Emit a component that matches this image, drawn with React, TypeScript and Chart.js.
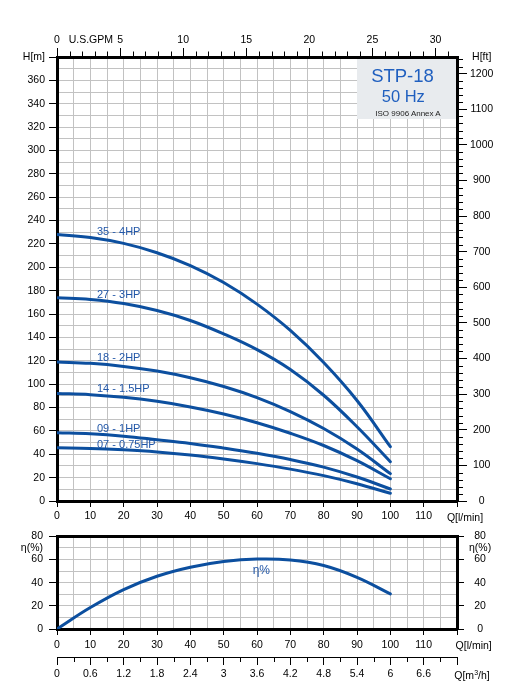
import React, { useEffect, useRef } from 'react';
import { Chart, registerables } from 'chart.js';

Chart.register(...registerables);

const FONT = "'Liberation Sans', Arial, Helvetica, sans-serif";
Chart.defaults.font.family = FONT;
Chart.defaults.font.size = 10.5;
Chart.defaults.color = '#000';

// ---------------- data ----------------
const flowLpm = [0, 10, 20, 30, 40, 50, 60, 70, 80, 90, 100];
const head35 = [228, 225.5, 220.5, 212.5, 201.5, 187, 168.5, 146, 118.5, 86, 46.5];
const head27 = [174, 172.5, 169, 163, 154.5, 143, 129.5, 112.5, 90.5, 63.5, 33.6];
const head18 = [119, 117.8, 115.2, 111.2, 105.5, 98, 88.5, 76.5, 62, 44.5, 23.4];
const head14 = [92, 91, 88.8, 85.3, 80.5, 74.5, 67, 58, 47.5, 34.5, 19];
const head09 = [58.5, 57.5, 55.5, 52.5, 49.3, 45.3, 40.8, 35.5, 29, 20.5, 10.3];
const head07 = [45.5, 45, 43.8, 42, 39.4, 36, 32, 27.3, 21.7, 14.8, 6.6];
const efficiency = [0, 18.5, 34, 45.5, 53.3, 58.2, 60.4, 59.6, 54.8, 44.6, 30.3];

const curveNames = ['35 - 4HP', '27 - 3HP', '18 - 2HP', '14 - 1.5HP', '09 - 1HP', '07 - 0.75HP'];
const curveLabelFlow = 12;
const curveLabelHead = [230, 176, 122.3, 96, 61.7, 47.9];
const effLabel = 'η%';
const effLabelFlow = 58.7;
const effLabelValue = 50.4;

// ---------------- ticks ----------------
const flowTickLabels = [0, 10, 20, 30, 40, 50, 60, 70, 80, 90, 100, 110];
const headTickLabels = [0, 20, 40, 60, 80, 100, 120, 140, 160, 180, 200, 220, 240, 260, 280, 300, 320, 340, 360];
const feetTickLabels = [0, 100, 200, 300, 400, 500, 600, 700, 800, 900, 1000, 1100, 1200];
const gpmTickLabels = [0, 5, 10, 15, 20, 25, 30];
const effTickLabels = [0, 20, 40, 60, 80];
const m3hTickValues = [0, 0.6, 1.2, 1.8, 2.4, 3, 3.6, 4.2, 4.8, 5.4, 6, 6.6, 7.2];
const m3hTickLabels = ['0', '0.6', '1.2', '1.8', '2.4', '3', '3.6', '4.2', '4.8', '5.4', '6', '6.6'];
const m3hMinorTicks = [0.3, 0.9, 1.5, 2.1, 2.7, 3.3, 3.9, 4.5, 5.1, 5.7, 6.3, 6.9];

const FLOW_MAX = 120;
const HEAD_MAX = 380;
const EFF_MAX = 80;
const FT_PER_M = 3.28084;
const LPM_PER_GPM = 3.78541;
const FT_MAX = HEAD_MAX * FT_PER_M;
const GPM_MAX = FLOW_MAX / LPM_PER_GPM;
const M3H_MAX = FLOW_MAX * 0.06;

const range = (start: number, end: number, step: number) => {
  const out: number[] = [];
  for (let i = 0; start + i * step <= end + 1e-9; i++) out.push(Math.round((start + i * step) * 1000) / 1000);
  return out;
};
const flowGrid = range(0, FLOW_MAX, 5);
const headGrid = range(0, HEAD_MAX, 10);
const effGrid = range(0, EFF_MAX, 10);
const gpmMinor = range(1, 31, 1).filter((v) => v % 5 !== 0);
const ftMinor = range(20, 1240, 20).filter((v) => v % 100 !== 0);

// ---------------- styles ----------------
const GRID = '#c2c2c2';
const CURVE = '#0c4f9f';
const LABEL_BLUE = '#2257a8';
const CLEAR = 'rgba(0,0,0,0)';

const edgeGrid = (min: number, max: number) => (c: any) => {
  const v = c.tick ? c.tick.value : NaN;
  return v === min || v === max ? CLEAR : GRID;
};
const setTicks = (values: number[]) => (s: any) => {
  s.ticks = values.map((v) => ({ value: v }));
};
const frame = { display: true, color: '#000', width: 3 };

const textPlugin = {
  id: 'textLabels',
  afterDatasetsDraw(chart: any, _a: any, opts: any) {
    const ctx = chart.ctx;
    ctx.save();
    ctx.font = opts.font;
    ctx.fillStyle = opts.color;
    ctx.textAlign = 'left';
    ctx.textBaseline = 'middle';
    for (const it of opts.items || []) {
      const xs = chart.scales[it.xAxis];
      const ys = chart.scales[it.yAxis];
      ctx.fillText(it.text, xs.getPixelForValue(it.x), ys.getPixelForValue(it.y));
    }
    ctx.restore();
  },
};

const minorTickPlugin = {
  id: 'minorTicks',
  afterDraw(chart: any, _a: any, opts: any) {
    const ctx = chart.ctx;
    ctx.save();
    ctx.strokeStyle = '#000';
    ctx.lineWidth = 1;
    for (const spec of opts.specs || []) {
      const s = chart.scales[spec.scaleId];
      for (const v of spec.values) {
        const p = Math.round(s.getPixelForValue(v)) + 0.5;
        ctx.beginPath();
        if (s.position === 'top') {
          ctx.moveTo(p, s.bottom);
          ctx.lineTo(p, s.bottom - spec.length);
        } else if (s.position === 'bottom') {
          ctx.moveTo(p, s.top);
          ctx.lineTo(p, s.top + spec.length);
        } else if (s.position === 'right') {
          ctx.moveTo(s.left, p);
          ctx.lineTo(s.left + spec.length, p);
        } else {
          ctx.moveTo(s.right, p);
          ctx.lineTo(s.right - spec.length, p);
        }
        ctx.stroke();
      }
    }
    ctx.restore();
  },
};

const headSeries = [head35, head27, head18, head14, head09, head07];

function lineDataset(values: number[], yAxisID: string) {
  return {
    data: flowLpm.map((q, i) => ({ x: q, y: values[i] })),
    borderColor: CURVE,
    borderWidth: 3,
    pointRadius: 0,
    fill: false,
    tension: 0.4,
    borderCapStyle: 'round' as const,
    xAxisID: 'x',
    yAxisID,
  };
}

function flowAxis(height: number, padding: number) {
  return {
    type: 'linear',
    axis: 'x',
    position: 'bottom',
    weight: 0,
    min: 0,
    max: FLOW_MAX,
    afterBuildTicks: setTicks(flowGrid),
    afterFit: (s: any) => {
      s.height = height;
    },
    grid: {
      color: edgeGrid(0, FLOW_MAX),
      lineWidth: 1,
      tickLength: 6,
      tickColor: (c: any) => (c.tick && c.tick.value % 10 === 0 ? '#000' : CLEAR),
    },
    border: frame,
    ticks: {
      autoSkip: false,
      maxRotation: 0,
      padding,
      callback: (v: number) => (flowTickLabels.includes(v) ? String(v) : ''),
    },
  };
}

function mainConfig(): any {
  return {
    type: 'line',
    data: {
      datasets: headSeries.map((h) => lineDataset(h, 'y')),
    },
    plugins: [textPlugin, minorTickPlugin],
    options: {
      animation: false,
      responsive: false,
      events: [],
      layout: { autoPadding: false, padding: 0 },
      plugins: {
        legend: { display: false },
        tooltip: { enabled: false },
        textLabels: {
          font: `11px ${FONT}`,
          color: LABEL_BLUE,
          items: curveNames.map((t, i) => ({ text: t, x: curveLabelFlow, y: curveLabelHead[i], xAxis: 'x', yAxis: 'y' })),
        },
        minorTicks: {
          specs: [
            { scaleId: 'xgpm', values: gpmMinor, length: 5.5 },
            { scaleId: 'yft', values: ftMinor, length: 6 },
          ],
        },
      },
      scales: {
        x: flowAxis(23, 3),
        xgpm: {
          type: 'linear',
          axis: 'x',
          position: 'top',
          min: 0,
          max: GPM_MAX,
          afterBuildTicks: setTicks(gpmTickLabels),
          afterFit: (s: any) => {
            s.height = 57;
          },
          grid: { drawOnChartArea: false, tickLength: 9, tickColor: '#000' },
          border: frame,
          ticks: { autoSkip: false, maxRotation: 0, padding: 2 },
        },
        y: {
          type: 'linear',
          axis: 'y',
          position: 'left',
          min: 0,
          max: HEAD_MAX,
          afterBuildTicks: setTicks(headGrid),
          afterFit: (s: any) => {
            s.width = 57;
          },
          grid: {
            color: edgeGrid(0, HEAD_MAX),
            lineWidth: 1,
            tickLength: 8,
            tickColor: (c: any) => (c.tick && c.tick.value % 20 === 0 ? '#000' : CLEAR),
          },
          border: frame,
          ticks: {
            autoSkip: false,
            padding: 4,
            callback: (v: number) => (v === HEAD_MAX ? 'H[m]' : headTickLabels.includes(v) ? String(v) : ''),
          },
        },
        yft: {
          type: 'linear',
          axis: 'y',
          position: 'right',
          min: 0,
          max: FT_MAX,
          afterBuildTicks: setTicks([...feetTickLabels, FT_MAX]),
          afterFit: (s: any) => {
            s.width = 51;
          },
          grid: {
            drawOnChartArea: false,
            tickLength: 10,
            tickColor: (c: any) => (c.tick && c.tick.value === FT_MAX ? CLEAR : '#000'),
          },
          border: frame,
          ticks: {
            autoSkip: false,
            padding: 3,
            crossAlign: 'center',
            callback: (v: number) => (v === FT_MAX ? 'H[ft]' : String(v)),
          },
        },
      },
    },
  };
}

function effConfig(): any {
  return {
    type: 'line',
    data: {
      datasets: [lineDataset(efficiency, 'yEff')],
    },
    plugins: [textPlugin, minorTickPlugin],
    options: {
      animation: false,
      responsive: false,
      events: [],
      layout: { autoPadding: false, padding: { top: 10, left: 0, right: 0, bottom: 0 } },
      plugins: {
        legend: { display: false },
        tooltip: { enabled: false },
        textLabels: {
          font: `12px ${FONT}`,
          color: LABEL_BLUE,
          items: [{ text: effLabel, x: effLabelFlow, y: effLabelValue, xAxis: 'x', yAxis: 'yEff' }],
        },
        minorTicks: {
          specs: [{ scaleId: 'xm3', values: m3hMinorTicks, length: 5 }],
        },
      },
      scales: {
        xtop: {
          type: 'linear',
          axis: 'x',
          position: 'top',
          min: 0,
          max: FLOW_MAX,
          afterFit: (s: any) => {
            s.height = 0;
          },
          grid: { drawOnChartArea: false, drawTicks: false },
          border: frame,
          ticks: { display: false },
        },
        x: flowAxis(28, 4),
        xm3: {
          type: 'linear',
          axis: 'x',
          position: 'bottom',
          weight: 1,
          min: 0,
          max: M3H_MAX,
          afterBuildTicks: setTicks(m3hTickValues),
          afterFit: (s: any) => {
            s.height = 36;
          },
          grid: { drawOnChartArea: false, tickLength: 8, tickColor: '#000' },
          border: { display: true, color: '#000', width: 1 },
          ticks: {
            autoSkip: false,
            maxRotation: 0,
            padding: 3,
            callback: (_v: number, i: number) => m3hTickLabels[i] ?? '',
          },
        },
        yEff: {
          type: 'linear',
          axis: 'y',
          position: 'left',
          min: 0,
          max: EFF_MAX,
          afterBuildTicks: setTicks(effGrid),
          afterFit: (s: any) => {
            s.width = 57;
          },
          grid: {
            color: edgeGrid(0, EFF_MAX),
            lineWidth: 1,
            tickLength: 8,
            tickColor: (c: any) => (c.tick && c.tick.value % 20 === 0 ? '#000' : CLEAR),
          },
          border: frame,
          ticks: {
            autoSkip: false,
            padding: 6,
            callback: (v: number) => (v === 70 ? 'η(%)' : effTickLabels.includes(v) ? String(v) : ''),
          },
        },
        yEffR: {
          type: 'linear',
          axis: 'y',
          position: 'right',
          min: 0,
          max: EFF_MAX,
          afterBuildTicks: setTicks([...effTickLabels, 70]),
          afterFit: (s: any) => {
            s.width = 51;
          },
          grid: {
            drawOnChartArea: false,
            tickLength: 7,
            tickColor: (c: any) => (c.tick && c.tick.value === 70 ? CLEAR : '#000'),
          },
          border: frame,
          ticks: {
            autoSkip: false,
            padding: 5,
            crossAlign: 'center',
            callback: (v: number) => (v === 70 ? 'η(%)' : String(v)),
          },
        },
      },
    },
  };
}

function Text(props: { cx: number; cy: number; size: number; color?: string; children: React.ReactNode }) {
  const { cx, cy, size, color = '#000', children } = props;
  const lh = size * 1.2;
  return (
    <div
      style={{
        position: 'absolute',
        left: cx - 70,
        width: 140,
        top: cy - lh / 2,
        lineHeight: `${lh}px`,
        fontSize: size,
        fontFamily: FONT,
        color,
        textAlign: 'center',
        whiteSpace: 'nowrap',
      }}
    >
      {children}
    </div>
  );
}

export default function App() {
  const mainRef = useRef<HTMLCanvasElement>(null);
  const effRef = useRef<HTMLCanvasElement>(null);

  useEffect(() => {
    const c1 = new Chart(mainRef.current as HTMLCanvasElement, mainConfig());
    const c2 = new Chart(effRef.current as HTMLCanvasElement, effConfig());
    return () => {
      c1.destroy();
      c2.destroy();
    };
  }, []);

  return (
    <div
      style={{
        position: 'absolute',
        left: 0,
        top: 0,
        width: 508,
        height: 693,
        background: '#fff',
        overflow: 'hidden',
        fontFamily: FONT,
      }}
    >
      <canvas ref={mainRef} width={508} height={524} style={{ position: 'absolute', left: 0, top: 0 }} />
      <canvas ref={effRef} width={508} height={169} style={{ position: 'absolute', left: 0, top: 524 }} />
      <div
        style={{
          position: 'absolute',
          left: 357,
          top: 59,
          width: 98.5,
          height: 59.5,
          background: '#e8ebee',
        }}
      />
      <Text cx={402.5} cy={76.3} size={18.5} color="#1f5fbf">STP-18</Text>
      <Text cx={403.3} cy={97} size={16.5} color="#1f5fbf">50 Hz</Text>
      <Text cx={408} cy={114} size={8} color="#222">ISO 9906 Annex A</Text>
      <Text cx={90.8} cy={39} size={10.5}>U.S.GPM</Text>
      <Text cx={465} cy={517.5} size={10.5}>Q[l/min]</Text>
      <Text cx={473.7} cy={645} size={10.5}>Q[l/min]</Text>
      <Text cx={472} cy={675} size={10.5}>
        Q[m<sup style={{ fontSize: 7, lineHeight: 0, verticalAlign: 'super' }}>3</sup>/h]
      </Text>
    </div>
  );
}
